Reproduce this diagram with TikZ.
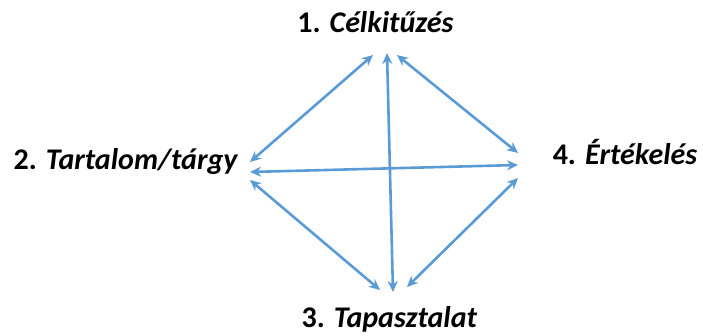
\documentclass[tikz,border=0pt]{standalone}
\usepackage{fontspec}
\setmainfont{Carlito}
\usetikzlibrary{arrows.meta}
\definecolor{arrowblue}{HTML}{5B9BD5}
\tikzset{
  lbl/.style={anchor=base, inner sep=0pt, font=\fontsize{30}{34}\selectfont\bfseries, text=black},
  link/.style={draw=arrowblue, line width=2.6pt, {Stealth[length=11pt,width=10pt]}-{Stealth[length=11pt,width=10pt]}}
}
\begin{document}
\begin{tikzpicture}[x=1pt,y=-1pt]
\useasboundingbox (0,0) rectangle (703,336);
\node[lbl] (n1) at (375.5,33) {1. \textit{Célkitűzés}};
\node[lbl] (n2) at (126,170) {2. \textit{Tartalom/tárgy}};
\node[lbl] (n3) at (389.5,327) {3. \textit{Tapasztalat}};
\node[lbl] (n4) at (625,165) {4. \textit{Értékelés}};
% endpoints
\coordinate (a1) at (373,55);
\coordinate (a2) at (387,53);
\coordinate (a3) at (397,55);
\coordinate (b1) at (250,162);
\coordinate (b2) at (250,172);
\coordinate (b3) at (250,180);
\coordinate (c1) at (380,290);
\coordinate (c2) at (393,292);
\coordinate (c3) at (407,287);
\coordinate (d1) at (518,153);
\coordinate (d2) at (518,165);
\coordinate (d3) at (518,178);
\draw[link] (a1) -- (b1);
\draw[link] (a2) -- (c2);
\draw[link] (a3) -- (d1);
\draw[link] (b2) -- (d2);
\draw[link] (b3) -- (c1);
\draw[link] (c3) -- (d3);
\end{tikzpicture}
\end{document}
